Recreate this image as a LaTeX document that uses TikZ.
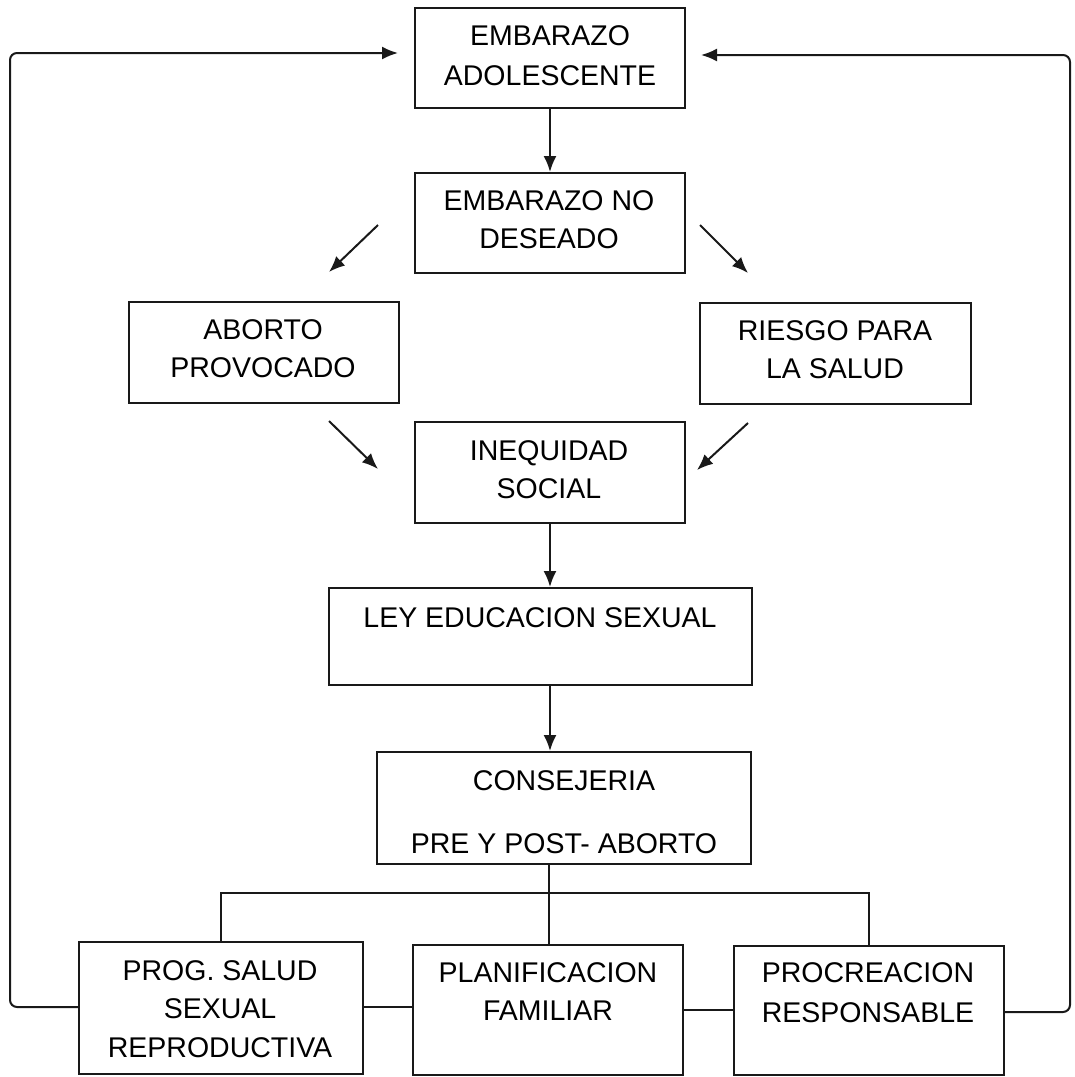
\documentclass[tikz,border=0pt]{standalone}
\usepackage{fontspec}
\setmainfont{Liberation Sans}
\usetikzlibrary{arrows.meta}
\begin{document}
\begin{tikzpicture}[x=1pt,y=-1pt,
  box/.style={draw=black!90, line width=2pt, rectangle, inner sep=0pt},
  lbl/.style={anchor=base, inner sep=0pt, font=\fontsize{28.5}{34}\selectfont, text=black},
  con/.style={draw=black!90, line width=2pt},
  arr/.style={con, -{Latex[length=16pt,width=13pt]}}]
\useasboundingbox (0,0) rectangle (1075,1077);
\fill[white] (0,0) rectangle (1075,1077);
% boxes
\node[box, minimum width=270pt, minimum height=100pt] (b1) at (550,58) {};
\node[box, minimum width=270pt, minimum height=100pt] (b2) at (550,223) {};
\node[box, minimum width=270pt, minimum height=101pt] (abort) at (264,352.5) {};
\node[box, minimum width=271pt, minimum height=101pt] (riesgo) at (835.5,353.5) {};
\node[box, minimum width=270pt, minimum height=101pt] (ineq) at (550,472.5) {};
\node[box, minimum width=423pt, minimum height=97pt] (ley) at (540.5,636.5) {};
\node[box, minimum width=374pt, minimum height=112pt] (cons) at (564,808) {};
\node[box, minimum width=284pt, minimum height=132pt] (prog) at (221,1008) {};
\node[box, minimum width=270pt, minimum height=130pt] (plan) at (548,1010) {};
\node[box, minimum width=270pt, minimum height=129pt] (proc) at (869,1010.5) {};
% labels
\node[lbl] (t1a) at (550,45) {EMBARAZO};
\node[lbl] (t1b) at (550,85) {ADOLESCENTE};
\node[lbl] (t2a) at (549,210) {EMBARAZO NO};
\node[lbl] (t2b) at (549,248) {DESEADO};
\node[lbl] (t3a) at (263,339) {ABORTO};
\node[lbl] (t3b) at (263,377) {PROVOCADO};
\node[lbl] (t4a) at (835,340) {RIESGO PARA};
\node[lbl] (t4b) at (835,378) {LA SALUD};
\node[lbl] (t5a) at (549,460) {INEQUIDAD};
\node[lbl] (t5b) at (549,498) {SOCIAL};
\node[lbl] (t6a) at (540,627) {LEY EDUCACION SEXUAL};
\node[lbl] (t7a) at (564,790) {CONSEJERIA};
\node[lbl] (t7b) at (564,853) {PRE Y POST- ABORTO};
\node[lbl] (t8a) at (220,980) {PROG. SALUD};
\node[lbl] (t8b) at (220,1018) {SEXUAL};
\node[lbl] (t8c) at (220,1057) {REPRODUCTIVA};
\node[lbl] (t9a) at (548,982) {PLANIFICACION};
\node[lbl] (t9b) at (548,1020) {FAMILIAR};
\node[lbl] (t10a) at (868,982) {PROCREACION};
\node[lbl] (t10b) at (868,1022) {RESPONSABLE};
% free coordinates
\coordinate (d1s) at (378,225); \coordinate (d1e) at (329,272);
\coordinate (d2s) at (700,225); \coordinate (d2e) at (748,273);
\coordinate (d3s) at (329,421); \coordinate (d3e) at (378,469);
\coordinate (d4s) at (748,423); \coordinate (d4e) at (697,470);
\coordinate (bus) at (549,893);
\coordinate (lb) at (10,1007); \coordinate (lt) at (10,53); \coordinate (la) at (398,53);
\coordinate (rb) at (1070,1012); \coordinate (rt) at (1070,55); \coordinate (ra) at (701,55);
% connectors
\draw[arr] (b1.south) -- (b2.north);
\draw[arr] (d1s) -- (d1e);
\draw[arr] (d2s) -- (d2e);
\draw[arr] (d3s) -- (d3e);
\draw[arr] (d4s) -- (d4e);
\draw[arr] (ineq.south) -- (ineq.south |- ley.north);
\draw[arr] (ineq.south |- ley.south) -- (ineq.south |- cons.north);
\draw[con] (bus |- cons.south) -- (bus |- plan.north);
\draw[con] (prog.north) -- (prog.north |- bus) -- (proc.north |- bus) -- (proc.north);
\draw[con] (prog.east |- lb) -- (plan.west |- lb);
\draw[con] (plan.east) -- (proc.west |- plan.east);
\draw[arr, rounded corners=7pt] (prog.west |- lb) -- (lb) -- (lt) -- (la);
\draw[arr, rounded corners=7pt] (proc.east |- rb) -- (rb) -- (rt) -- (ra);
\end{tikzpicture}
\end{document}
